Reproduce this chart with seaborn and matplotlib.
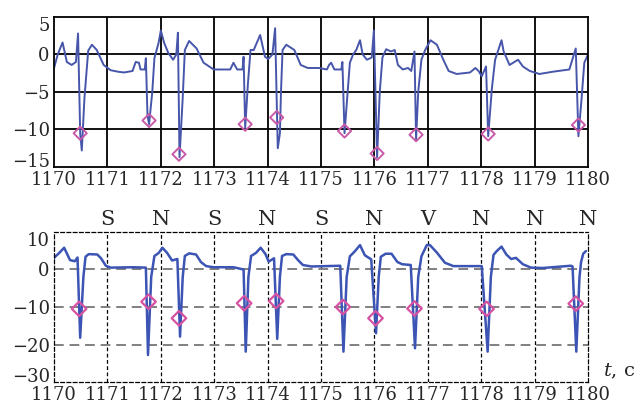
#!/usr/bin/env python3

import matplotlib
matplotlib.use('Agg')
import matplotlib.pyplot as plt
import seaborn as sns
import numpy as np
import pandas as pd

# upper trace (raw record)
top_t = [1170.00, 1170.07, 1170.16, 1170.24, 1170.33, 1170.41, 1170.45, 1170.49,
         1170.52, 1170.57, 1170.64, 1170.71, 1170.80, 1170.93, 1171.06, 1171.20,
         1171.31, 1171.47, 1171.53, 1171.59, 1171.62, 1171.70, 1171.72, 1171.75,
         1171.78, 1171.84, 1171.88, 1171.96, 1172.00, 1172.06, 1172.14, 1172.23,
         1172.29, 1172.32, 1172.35, 1172.41, 1172.45, 1172.53, 1172.67, 1172.80,
         1172.99, 1173.30, 1173.36, 1173.43, 1173.53, 1173.55, 1173.58, 1173.63,
         1173.68, 1173.74, 1173.86, 1173.95, 1174.01, 1174.09, 1174.14, 1174.19,
         1174.23, 1174.25, 1174.28, 1174.35, 1174.50, 1174.62, 1174.75, 1174.96,
         1175.11, 1175.15, 1175.19, 1175.25, 1175.38, 1175.40, 1175.44, 1175.49,
         1175.54, 1175.60, 1175.66, 1175.73, 1175.78, 1175.86, 1175.95, 1175.99,
         1176.05, 1176.10, 1176.15, 1176.22, 1176.31, 1176.38, 1176.44, 1176.53,
         1176.63, 1176.69, 1176.75, 1176.78, 1176.82, 1176.88, 1176.95, 1177.05,
         1177.17, 1177.29, 1177.39, 1177.54, 1177.79, 1177.89, 1177.95, 1178.01,
         1178.09, 1178.13, 1178.20, 1178.26, 1178.32, 1178.38, 1178.42, 1178.53,
         1178.69, 1178.78, 1178.91, 1179.09, 1179.34, 1179.65, 1179.77, 1179.82,
         1179.88, 1179.93, 1180.00]
top_v = [-1.8, 0.0, 1.6, -1.0, -1.4, -1.0, 2.8, -10.5,
         -12.8, -5.8, 0.5, 1.3, 0.6, -1.4, -2.1, -2.3,
         -2.4, -2.2, -1.0, -1.1, -2.0, -2.0, -0.5, -8.1,
         -9.3, -5.0, -0.5, 1.6, 3.2, 1.6, 0.2, -0.7,
         0.0, 2.9, -13.7, -5.8, 0.6, 1.8, 0.8, -1.1,
         -2.0, -2.0, -1.1, -2.0, -2.0, -0.3, -9.8, -4.0,
         0.6, 0.6, 2.6, -0.3, -0.6, 0.0, 3.5, -12.5,
         -10.5, -5.0, 0.6, 1.3, 0.6, -1.4, -1.8, -1.8,
         -2.0, -1.4, -1.1, -2.0, -2.0, -1.0, -10.5, -5.8,
         -1.1, 0.0, 0.6, 1.9, 0.0, -0.7, -0.4, 3.2,
         -13.7, -5.0, -0.4, 0.7, 0.4, 0.6, -1.4, -2.0,
         -1.8, -2.2, 0.4, -11.3, -5.0, -0.7, 0.6, 1.9,
         1.3, -0.7, -2.2, -2.6, -2.4, -1.8, -2.2, -2.9,
         -1.6, -10.9, -4.5, -0.7, 0.6, 1.9, 0.4, -1.4,
         -0.7, -1.6, -2.2, -2.6, -2.3, -2.0, 0.8, -10.9,
         -5.8, -1.1, 0.0]
top_mark_t = [1170.49, 1171.78, 1172.34, 1173.58, 1174.17, 1175.44, 1176.05, 1176.78, 1178.13, 1179.82]
top_mark_v = [-10.5, -8.8, -13.3, -9.3, -8.4, -10.2, -13.2, -10.7, -10.6, -9.4]

# lower trace (filtered record)
bot_t = [1170.00, 1170.02, 1170.09, 1170.19, 1170.30, 1170.39, 1170.44, 1170.49,
         1170.55, 1170.59, 1170.65, 1170.81, 1170.88, 1170.97, 1171.06, 1171.50,
         1171.72, 1171.76, 1171.82, 1171.88, 1171.96, 1172.03, 1172.12, 1172.21,
         1172.31, 1172.36, 1172.41, 1172.45, 1172.53, 1172.66, 1172.75, 1172.85,
         1172.99, 1173.36, 1173.55, 1173.59, 1173.64, 1173.69, 1173.78, 1173.87,
         1173.96, 1174.02, 1174.12, 1174.18, 1174.23, 1174.27, 1174.35, 1174.48,
         1174.57, 1174.66, 1174.82, 1175.36, 1175.42, 1175.48, 1175.54, 1175.63,
         1175.73, 1175.82, 1175.94, 1176.03, 1176.08, 1176.12, 1176.21, 1176.32,
         1176.43, 1176.52, 1176.68, 1176.76, 1176.82, 1176.88, 1176.98, 1177.04,
         1177.17, 1177.32, 1177.48, 1178.01, 1178.12, 1178.18, 1178.23, 1178.29,
         1178.38, 1178.47, 1178.56, 1178.65, 1178.78, 1178.93, 1179.15, 1179.68,
         1179.71, 1179.78, 1179.84, 1179.87, 1179.91, 1179.96]
bot_v = [3.0, 3.4, 4.3, 5.8, 2.5, 2.2, 3.2, -18.2,
         -2.0, 3.4, 4.1, 4.0, 3.0, 1.0, 0.5, 0.6,
         0.5, -22.8, -2.0, 3.6, 4.4, 5.8, 4.4, 2.4,
         2.8, -17.9, -2.0, 3.6, 4.3, 4.0, 2.0, 0.9,
         0.6, 0.6, 0.0, -21.9, -2.0, 3.6, 4.4, 5.8,
         4.1, 2.1, 3.0, -18.5, -2.0, 3.6, 4.1, 4.0,
         2.5, 1.2, 0.8, 1.0, -21.9, -2.0, 3.5, 4.8,
         6.5, 3.8, 2.7, -17.0, -2.0, 3.4, 4.2, 4.2,
         2.0, 1.4, 1.2, -21.0, -2.0, 3.5, 6.5, 6.5,
         4.5, 1.8, 0.9, 0.9, -21.9, -2.0, 3.9, 4.9,
         6.1, 4.0, 2.8, 3.1, 1.4, 0.5, 0.4, 1.0,
         0.8, -21.9, -2.0, 2.0, 4.2, 4.9]
bot_mark_t = [1170.47, 1171.77, 1172.34, 1173.56, 1174.16, 1175.41, 1176.02, 1176.75, 1178.10, 1179.77]
bot_mark_v = [-10.5, -8.6, -13.0, -9.0, -8.4, -10.0, -13.0, -10.4, -10.5, -9.1]

beat_t = [1171, 1172, 1173, 1174, 1175, 1176, 1177, 1178, 1179, 1180]
beat_labels = ['S', 'N', 'S', 'N', 'S', 'N', 'V', 'N', 'N', 'N']

xticks = list(range(1170, 1181))

sns.set_style('white')
plt.rcParams['font.family'] = ['DejaVu Serif']
plt.rcParams['font.size'] = 13
plt.rcParams['mathtext.fontset'] = 'dejavuserif'

fig = plt.figure(figsize=(6.34, 4.07), dpi=100)
ax1 = fig.add_axes([0.0852, 0.5897, 0.8423, 0.3686])
ax2 = fig.add_axes([0.0852, 0.0614, 0.8423, 0.3686])

# upper panel
df_top = pd.DataFrame({'t': top_t, 'v': top_v})
sns.lineplot(data=df_top, x='t', y='v', sort=False, estimator=None,
             color='#4756aa', lw=1.4, ax=ax1)
sns.scatterplot(x=top_mark_t, y=top_mark_v, marker='D', s=45,
                facecolor='none', edgecolor='#c85aa8', linewidth=1.4,
                zorder=4, ax=ax1)
ax1.set_xlim(1170, 1180)
ax1.set_ylim(-15, 5)
ax1.set_xticks(xticks)
ax1.set_yticks([-15, -10, -5, 0, 5])
for x in xticks[1:-1]:
    ax1.axvline(x, color='black', lw=1.3, zorder=1)
for y in [-10, -5, 0]:
    ax1.axhline(y, color='black', lw=1.3, zorder=1)
for s in ax1.spines.values():
    s.set_color('black')
    s.set_linewidth(1.3)

# lower panel
df_bot = pd.DataFrame({'t': bot_t, 'v': bot_v})
sns.lineplot(data=df_bot, x='t', y='v', sort=False, estimator=None,
             color='#3c54b4', lw=1.8, ax=ax2)
sns.scatterplot(x=bot_mark_t, y=bot_mark_v, marker='D', s=55,
                facecolor='none', edgecolor='#d651a2', linewidth=1.6,
                zorder=4, ax=ax2)
ax2.set_xlim(1170, 1180)
ax2.set_ylim(-30, 10)
ax2.set_xticks(xticks)
ax2.set_yticks([-30, -20, -10, 0, 10])
for x in xticks[1:-1]:
    ax2.axvline(x, color='black', lw=0.9, ls=(0, (3, 2)), zorder=1)
for y in [-20, -10, 0]:
    ax2.axhline(y, color='#808080', lw=1.4, ls=(0, (5, 3)), zorder=1)
for s in ax2.spines.values():
    s.set_color('black')
    s.set_linewidth(0.9)
    s.set_linestyle((0, (3, 2)))

for tx, lab in zip(beat_t, beat_labels):
    ax2.text(tx, 11.9, lab, ha='center', va='baseline', fontsize=15)

ax2.text(1180.28, -28.5, '$t$, c', ha='left', va='baseline', fontsize=14)

for ax in (ax1, ax2):
    ax.set_xlabel('')
    ax.set_ylabel('')
    ax.tick_params(length=0, pad=3)
    yt = ax.yaxis.get_major_ticks()
    yt[0].label1.set_verticalalignment('baseline')
    yt[-1].label1.set_verticalalignment('top')

fig.savefig('out.png', dpi=100)
